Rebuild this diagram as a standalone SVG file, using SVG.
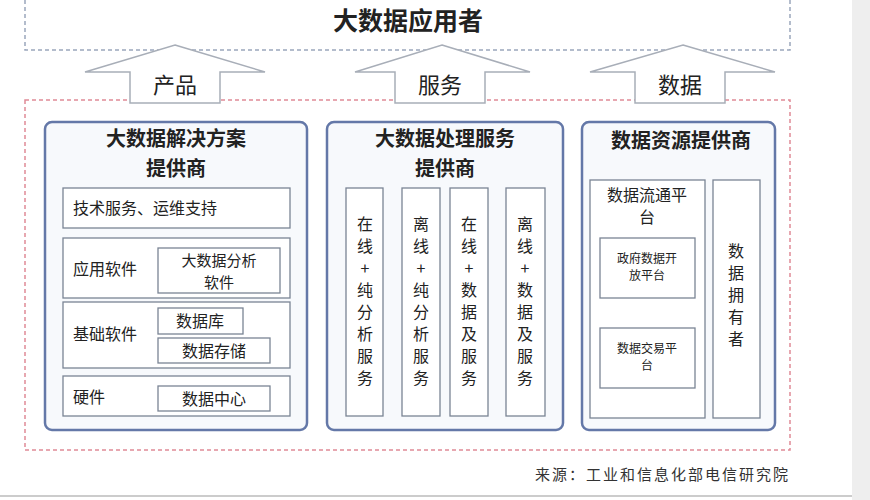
<svg xmlns="http://www.w3.org/2000/svg" width="870" height="500" viewBox="0 0 870 500">
<style>
text{font-family:"Noto Sans CJK SC","Noto Sans",sans-serif;fill:#222}
.t{font-size:20px;font-weight:bold;text-anchor:middle}
.n{font-size:16px}
.c{font-size:16px;text-anchor:middle}
.s{font-size:12px;text-anchor:middle}
.big{fill:#f7f9fc;stroke:#6478a8;stroke-width:2.5}
.in{fill:#fff;stroke:#7a8494;stroke-width:1.3}
.arr{fill:#fff;stroke:#a8aeb8;stroke-width:1.5}
</style>
<rect width="870" height="500" fill="#fff"/>
<rect x="852" y="0" width="18" height="500" fill="#eeeeee"/>
<line x1="0" y1="496" x2="852" y2="496" stroke="#999"/>
<g id="users">
<rect x="25" y="-5" width="765" height="55" fill="none" stroke="#9aa6bc" stroke-width="1.5" stroke-dasharray="4,3"/>
<text x="408" y="30" style="font-size:25px;font-weight:bold;text-anchor:middle">大数据应用者</text>
</g>
<rect id="providers" x="25" y="100" width="765" height="350" fill="none" stroke="#e08a96" stroke-width="1.5" stroke-dasharray="4,3"/>
<g id="connectors">
<path class="arr" d="M175,45 L265,72 L220,72 L220,103 L130,103 L130,72 L85,72 Z"/>
<text x="175" y="93" class="c" style="font-size:22px">产品</text>
<path class="arr" d="M442,45 L530,72 L485,72 L485,103 L395,103 L395,72 L355,72 Z"/>
<text x="440" y="93" class="c" style="font-size:22px">服务</text>
<path class="arr" d="M683,45 L775,72 L725,72 L725,103 L635,103 L635,72 L590,72 Z"/>
<text x="680" y="93" class="c" style="font-size:22px">数据</text>
</g>
<g id="solution">
<rect class="big" x="45" y="122" width="262" height="308" rx="7"/>
<text x="176" y="146" class="t">大数据解决方案</text>
<text x="176" y="176" class="t">提供商</text>
<rect class="in" x="63" y="188" width="227" height="40"/>
<text x="73" y="214" class="n">技术服务、运维支持</text>
<rect class="in" x="63" y="238" width="227" height="60"/>
<text x="73" y="275" class="n">应用软件</text>
<rect class="in" x="158" y="248" width="122" height="45"/>
<text x="219" y="266" class="c" style="font-size:15px">大数据分析</text>
<text x="219" y="288" class="c" style="font-size:15px">软件</text>
<rect class="in" x="63" y="302" width="227" height="66"/>
<text x="73" y="340" class="n">基础软件</text>
<rect class="in" x="158" y="308" width="85" height="26"/>
<text x="200" y="327" class="c">数据库</text>
<rect class="in" x="158" y="338" width="112" height="25"/>
<text x="214" y="357" class="c">数据存储</text>
<rect class="in" x="63" y="376" width="227" height="40"/>
<text x="73" y="403" class="n">硬件</text>
<rect class="in" x="158" y="386" width="112" height="25"/>
<text x="214" y="405" class="c">数据中心</text>
</g>
<g id="processing">
<rect class="big" x="327" y="122" width="236" height="308" rx="7"/>
<text x="445" y="146" class="t">大数据处理服务</text>
<text x="445" y="176" class="t">提供商</text>
<rect class="in" x="346" y="188" width="37" height="228"/>
<rect class="in" x="402" y="188" width="38" height="228"/>
<rect class="in" x="450" y="188" width="38" height="228"/>
<rect class="in" x="506" y="188" width="39" height="228"/>
<g>
<text x="365" y="230" class="c">在</text><text x="365" y="252" class="c">线</text><text x="365" y="274" class="c">+</text><text x="365" y="296" class="c">纯</text><text x="365" y="318" class="c">分</text><text x="365" y="340" class="c">析</text><text x="365" y="362" class="c">服</text><text x="365" y="384" class="c">务</text>
<text x="421" y="230" class="c">离</text><text x="421" y="252" class="c">线</text><text x="421" y="274" class="c">+</text><text x="421" y="296" class="c">纯</text><text x="421" y="318" class="c">分</text><text x="421" y="340" class="c">析</text><text x="421" y="362" class="c">服</text><text x="421" y="384" class="c">务</text>
<text x="469" y="230" class="c">在</text><text x="469" y="252" class="c">线</text><text x="469" y="274" class="c">+</text><text x="469" y="296" class="c">数</text><text x="469" y="318" class="c">据</text><text x="469" y="340" class="c">及</text><text x="469" y="362" class="c">服</text><text x="469" y="384" class="c">务</text>
<text x="525" y="230" class="c">离</text><text x="525" y="252" class="c">线</text><text x="525" y="274" class="c">+</text><text x="525" y="296" class="c">数</text><text x="525" y="318" class="c">据</text><text x="525" y="340" class="c">及</text><text x="525" y="362" class="c">服</text><text x="525" y="384" class="c">务</text>
</g>
</g>
<g id="resource">
<rect class="big" x="582" y="122" width="193" height="308" rx="7"/>
<text x="681" y="148" class="t">数据资源提供商</text>
<rect class="in" x="590" y="180" width="115" height="238"/>
<text x="647" y="201" class="c">数据流通平</text>
<text x="647" y="223" class="c">台</text>
<rect class="in" x="600" y="238" width="95" height="60"/>
<text x="647" y="263" class="s">政府数据开</text>
<text x="647" y="280" class="s">放平台</text>
<rect class="in" x="600" y="328" width="95" height="60"/>
<text x="647" y="353" class="s">数据交易平</text>
<text x="647" y="370" class="s">台</text>
<rect class="in" x="713" y="180" width="47" height="238"/>
<text x="736" y="257" class="c">数</text><text x="736" y="279" class="c">据</text><text x="736" y="301" class="c">拥</text><text x="736" y="323" class="c">有</text><text x="736" y="345" class="c">者</text>
</g>
<text x="790" y="480" style="font-family:'Noto Sans CJK SC',serif;font-size:15px;text-anchor:end;letter-spacing:2px;fill:#333">来源：工业和信息化部电信研究院</text>
</svg>
